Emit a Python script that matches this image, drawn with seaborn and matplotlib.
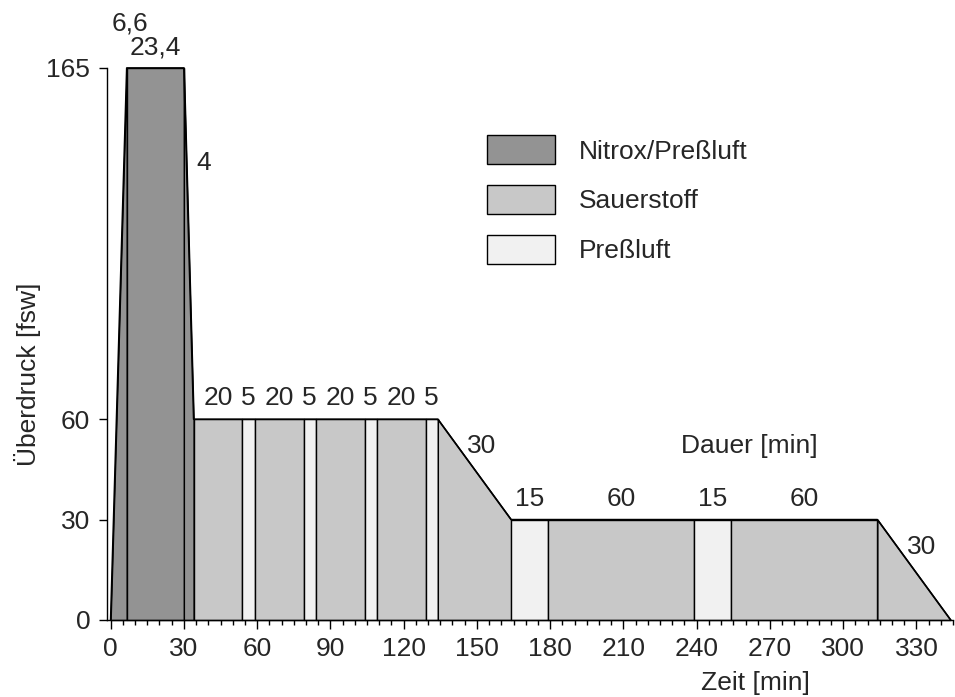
import numpy as np
import pandas as pd
import matplotlib
matplotlib.use("Agg")
import matplotlib.pyplot as plt
import matplotlib.patches as mpatches
from matplotlib.ticker import MultipleLocator
import seaborn as sns

# ── Data: dive profile, one entry per segment ─────────────────────────────
seg_duration = [6.6, 23.4, 4, 20, 5, 20, 5, 20, 5, 20, 5, 30, 15, 60, 15, 60, 30]
seg_end_depth = [165, 165, 60, 60, 60, 60, 60, 60, 60, 60, 60, 30, 30, 30, 30, 30, 0]
seg_gas = ["nitrox", "nitrox", "nitrox",
           "o2", "air", "o2", "air", "o2", "air", "o2", "air",
           "o2", "air", "o2", "air", "o2", "o2"]

x_ticks = [0, 30, 60, 90, 120, 150, 180, 210, 240, 270, 300, 330]
y_ticks = [0, 30, 60, 165]

GAS_COLORS = {"nitrox": "#939393", "o2": "#c8c8c8", "air": "#f1f1f1"}
GAS_LABELS = {"nitrox": "Nitrox/Preßluft", "o2": "Sauerstoff", "air": "Preßluft"}

FS = 19

# build profile table
t_end = np.cumsum(seg_duration)
t_start = np.concatenate([[0], t_end[:-1]])
d_start = [0] + seg_end_depth[:-1]
profile = pd.DataFrame({
    "t0": t_start, "t1": t_end,
    "d0": d_start, "d1": seg_end_depth,
    "gas": seg_gas, "dur": seg_duration,
})
outline = pd.DataFrame({
    "Zeit": np.concatenate([[0], t_end]),
    "Tiefe": [0] + seg_end_depth,
})

sns.set_theme(style="ticks")
plt.rcParams["font.family"] = ["Liberation Sans", "DejaVu Sans"]
plt.rcParams["font.size"] = FS

fig = plt.figure(figsize=(9.55, 6.97), dpi=100)
ax = fig.add_axes([0.112, 0.1105, 0.886, 0.792])

for _, s in profile.iterrows():
    ax.fill_between([s.t0, s.t1], [0, 0], [s.d0, s.d1],
                    facecolor=GAS_COLORS[s.gas], edgecolor="black",
                    linewidth=1.0, clip_on=False, zorder=2)

sns.lineplot(data=outline, x="Zeit", y="Tiefe", color="black", lw=1.2,
             ax=ax, zorder=3, clip_on=False)

# duration labels
for i, s in profile.iterrows():
    txt = f"{s.dur:g}".replace(".", ",")
    if s.d0 == s.d1:
        xm = (s.t0 + s.t1) / 2
        ax.annotate(txt, (xm, s.d1), xytext=(0, 15), textcoords="offset points",
                    ha="center", va="center", fontsize=FS, annotation_clip=False)
    elif i == 0:
        # descent label stacked above the bottom-time label
        ax.annotate(txt, (s.t1, s.d1), xytext=(2, 32), textcoords="offset points",
                    ha="center", va="center", fontsize=FS, annotation_clip=False)
    else:
        f = 0.27
        xp = s.t0 + f * (s.t1 - s.t0)
        yp = s.d0 + f * (s.d1 - s.d0)
        ax.annotate(txt, (xp, yp), xytext=(7, 0), textcoords="offset points",
                    ha="left", va="center", fontsize=FS, annotation_clip=False)

ax.text(0.759, 0.315, "Dauer [min]", transform=ax.transAxes,
        ha="center", va="center", fontsize=FS)
ax.text(0.766, -0.114, "Zeit [min]", transform=ax.transAxes,
        ha="center", va="center", fontsize=FS)
ax.text(-0.094, 0.445, "Überdruck [fsw]", transform=ax.transAxes,
        ha="center", va="center", rotation=90, fontsize=FS)
ax.set_xlabel("")
ax.set_ylabel("")

ax.set_xlim(-1.5, 345)
ax.set_ylim(0, 165)
ax.set_xticks(x_ticks)
ax.set_yticks(y_ticks)
ax.xaxis.set_minor_locator(MultipleLocator(5))
ax.tick_params(axis="x", which="major", direction="out", length=6.5, width=1,
               pad=6, labelsize=FS, color="black")
ax.tick_params(axis="x", which="minor", direction="out", length=3.5, width=1,
               color="black")
ax.tick_params(axis="y", direction="out", length=6, width=1, pad=6,
               labelsize=FS, color="black")

sns.despine(ax=ax)
ax.spines["left"].set_bounds(0, 165)
for sp in ("left", "bottom"):
    ax.spines[sp].set_color("black")
    ax.spines[sp].set_linewidth(1.0)

handles = [mpatches.Patch(facecolor=GAS_COLORS[g], edgecolor="black",
                          linewidth=1.0, label=GAS_LABELS[g])
           for g in ["nitrox", "o2", "air"]]
ax.legend(handles=handles, loc="upper left", bbox_to_anchor=(0.449, 0.878),
          frameon=False, fontsize=FS, handlelength=2.6, handleheight=1.3,
          handletextpad=0.87, labelspacing=0.8, borderpad=0, borderaxespad=0)

fig.savefig("out.png", dpi=100)
